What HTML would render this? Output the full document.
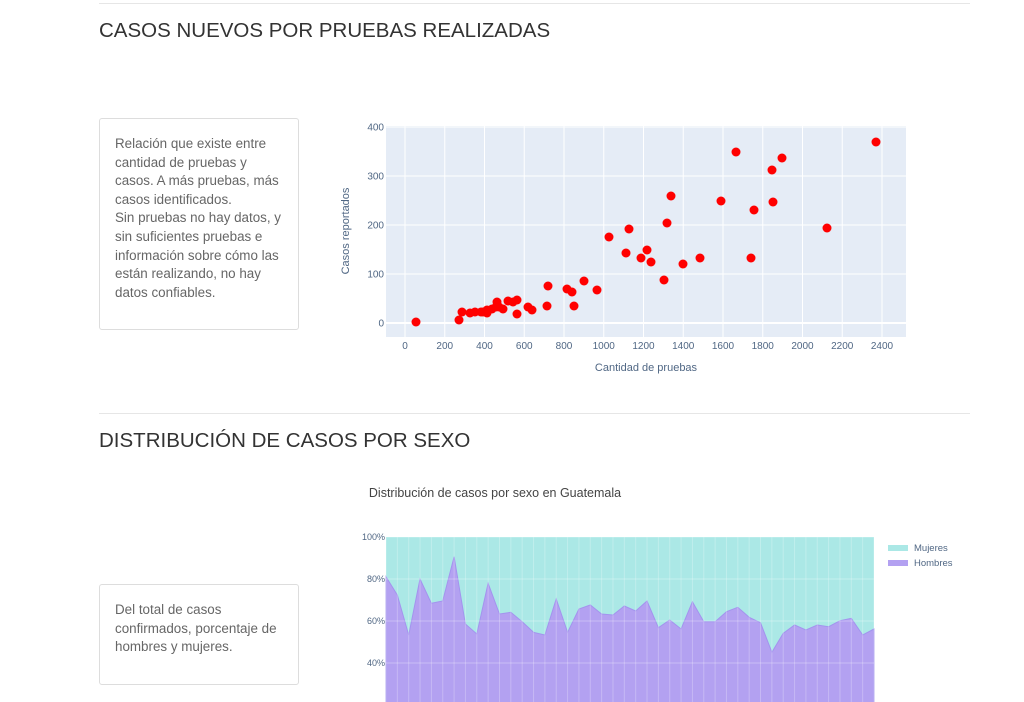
<!DOCTYPE html>
<html><head><meta charset="utf-8"><style>
body{margin:0;width:1024px;height:702px;overflow:hidden;background:#fff;font-family:"Liberation Sans",sans-serif;position:relative}
.hr{position:absolute;left:99px;width:871px;height:1px;background:#e6e6e6}
h2{position:absolute;left:99px;margin:0;font-weight:400;font-size:20.5px;color:#333;letter-spacing:0}
.box{position:absolute;left:99px;width:200px;border:1px solid #ddd;border-radius:3px;box-sizing:border-box;padding:16px 15px;color:#666;font-size:13.4px;line-height:18.6px}
svg{position:absolute;left:0;top:0}
svg text{font-family:"Liberation Sans",sans-serif;fill:#506784}
</style></head><body>
<div class="hr" style="top:3px"></div>
<h2 style="top:19px">CASOS NUEVOS POR PRUEBAS REALIZADAS</h2>
<div class="box" style="top:118px;height:212px">Relación que existe entre cantidad de pruebas y casos. A más pruebas, más casos identificados.<br>Sin pruebas no hay datos, y sin suficientes pruebas e información sobre cómo las están realizando, no hay datos confiables.</div>
<div class="hr" style="top:413px"></div>
<h2 style="top:429px">DISTRIBUCIÓN DE CASOS POR SEXO</h2>
<div class="box" style="top:584px;height:101px">Del total de casos confirmados, porcentaje de hombres y mujeres.</div>
<svg id="s" width="1024" height="702"></svg>
<script>
var s='';
s+='<rect x="386" y="126" width="520" height="211" fill="#e5ecf6"/>';
function X(v){return 405+v*0.19875}function Y(v){return 323-v*0.49}
for(var v=0;v<=2400;v+=200){var x=X(v);s+='<line x1="'+x+'" y1="126" x2="'+x+'" y2="337" stroke="#fff" stroke-width="1"/>';s+='<text x="'+x+'" y="349" font-size="10" text-anchor="middle">'+v+'</text>';}
for(var v=0;v<=400;v+=100){var y=Y(v);s+='<line x1="386" y1="'+y+'" x2="906" y2="'+y+'" stroke="#fff" stroke-width="'+(v==0?2:1)+'"/>';s+='<text x="384" y="'+(y+3.5)+'" font-size="10" text-anchor="end">'+v+'</text>';}
s+='<text x="646" y="371" font-size="11" text-anchor="middle">Cantidad de pruebas</text>';
s+='<text transform="translate(349,231) rotate(-90)" font-size="11" text-anchor="middle">Casos reportados</text>';
var p=[[416,322],[459,320],[462,312],[470,313],[481,312],[487,310],[492,309],[496,307],[499,307],[497,302],[483,312],[503,309],[475,312],[487,313],[508,301],[517,300],[517,314],[513,302],[528,307],[532,310],[547,306],[548,286],[567,289],[572,292],[574,306],[584,281],[597,290],[609,237],[626,253],[629,229],[641,258],[647,250],[651,262],[664,280],[667,223],[671,196],[683,264],[700,258],[721,201],[736,152],[751,258],[754,210],[772,170],[773,202],[782,158],[827,228],[876,142]];
p.forEach(function(q){s+='<circle cx="'+q[0]+'" cy="'+q[1]+'" r="4.5" fill="#ff0000"/>';});
s+='<text x="495" y="497" font-size="12.5" text-anchor="middle" style="fill:#444">Distribución de casos por sexo en Guatemala</text>';
s+='<rect x="386" y="537" width="488" height="170" fill="#abe8e6"/>';
var zy=[170,225,345,177,250,243,110,312,342,190,282,277,305,337,345,237,337,267,255,282,285,258,273,243,323,300,327,245,305,305,275,262,292,308,397,340,315,330,315,320,302,295,345,327];
var pts='386,710 ';zy.forEach(function(z,i){pts+=(386+i*488/43).toFixed(1)+','+(520+z/3).toFixed(1)+' ';});pts+='874,710';
s+='<polygon points="'+pts+'" fill="#b3a1f1" stroke="#a394ee" stroke-width="1"/>';
for(var i=0;i<44;i++){var x=386+i*488/43;s+='<line x1="'+x+'" y1="537" x2="'+x+'" y2="702" stroke="#fff" stroke-opacity="0.25"/>';}
[[100,537],[80,579],[60,621],[40,663]].forEach(function(a){s+='<line x1="386" y1="'+a[1]+'" x2="874" y2="'+a[1]+'" stroke="#fff" stroke-opacity="0.3"/><text x="385" y="'+(a[1]+3)+'" font-size="9" text-anchor="end">'+a[0]+'%</text>';});
s+='<rect x="888" y="545" width="20" height="6" fill="#abe8e6"/><text x="914" y="551" font-size="9.5">Mujeres</text>';
s+='<rect x="888" y="560" width="20" height="6" fill="#b3a1f1"/><text x="914" y="566" font-size="9.5">Hombres</text>';
document.getElementById('s').innerHTML=s;
</script>
</body></html>
